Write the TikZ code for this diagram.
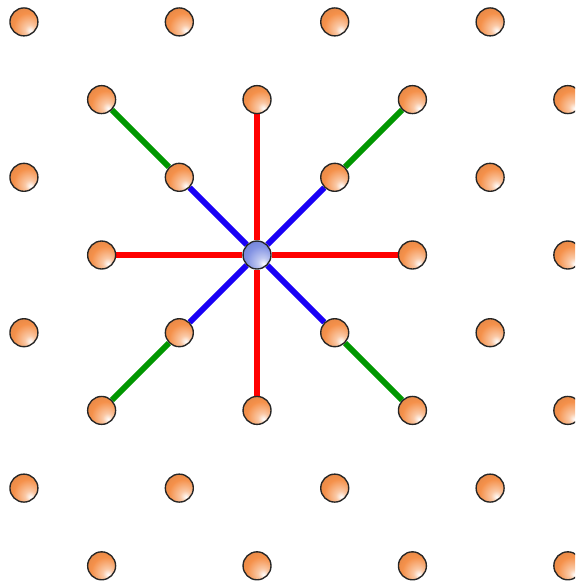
\documentclass[tikz,border=0pt]{standalone}
\definecolor{ballorange}{RGB}{245,145,75}
\definecolor{ballblue}{RGB}{100,120,220}
\definecolor{bondred}{RGB}{255,0,0}
\definecolor{bondblue}{RGB}{25,0,245}
\definecolor{bondgreen}{RGB}{0,150,0}
\usepackage{tikz}
\usetikzlibrary{backgrounds}
\pgfdeclareradialshading{orangeball}{\pgfpoint{12bp}{-16bp}}{%
  color(0bp)=(white); color(9bp)=(ballorange!50!white);
  color(26bp)=(ballorange); color(52bp)=(ballorange!85!black);
  color(72bp)=(ballorange!70!black)}
\pgfdeclareradialshading{blueball}{\pgfpoint{12bp}{-16bp}}{%
  color(0bp)=(white); color(9bp)=(ballblue!40!white);
  color(26bp)=(ballblue!80!white); color(52bp)=(ballblue!90!black);
  color(72bp)=(ballblue!70!black)}

\begin{document}
\begin{tikzpicture}[
    atom/.style={circle,draw=black!85,line width=0.5pt,inner sep=0pt,
      minimum size=0.36cm,shading=orangeball},
    centre/.style={atom,shading=blueball},
    bond/.style={line width=2.1pt}]
        \clip (-3.308,-4.247) rectangle (4.093,3.282);
        % lattice sites
        \foreach \y in {-4,-2,2}
          \foreach \x in {-2,0,2,4}
            \node[atom] (a\x\y) at (\x,\y) {};
        \foreach \x in {-2,2,4}
          \node[atom] (a\x0) at (\x,0) {};
        \foreach \y in {-3,-1,1,3}
          \foreach \x in {-3,-1,1,3}
            \node[atom] (a\x\y) at (\x,\y) {};
        \node[centre] (a00) at (0,0) {};
        % bonds
        \begin{scope}[on background layer]
          \draw[bond,bondred] (a00) -- (a02);
          \draw[bond,bondred] (a00) -- (a0-2);
          \draw[bond,bondred] (a00) -- (a-20);
          \draw[bond,bondred] (a00) -- (a20);
          \draw[bond,bondgreen] (a11) -- (a22);
          \draw[bond,bondgreen] (a-11) -- (a-22);
          \draw[bond,bondgreen] (a1-1) -- (a2-2);
          \draw[bond,bondgreen] (a-1-1) -- (a-2-2);
          \draw[bond,bondblue] (a00) -- (a11);
          \draw[bond,bondblue] (a00) -- (a-11);
          \draw[bond,bondblue] (a00) -- (a1-1);
          \draw[bond,bondblue] (a00) -- (a-1-1);
        \end{scope}
      \end{tikzpicture}
\end{document}
